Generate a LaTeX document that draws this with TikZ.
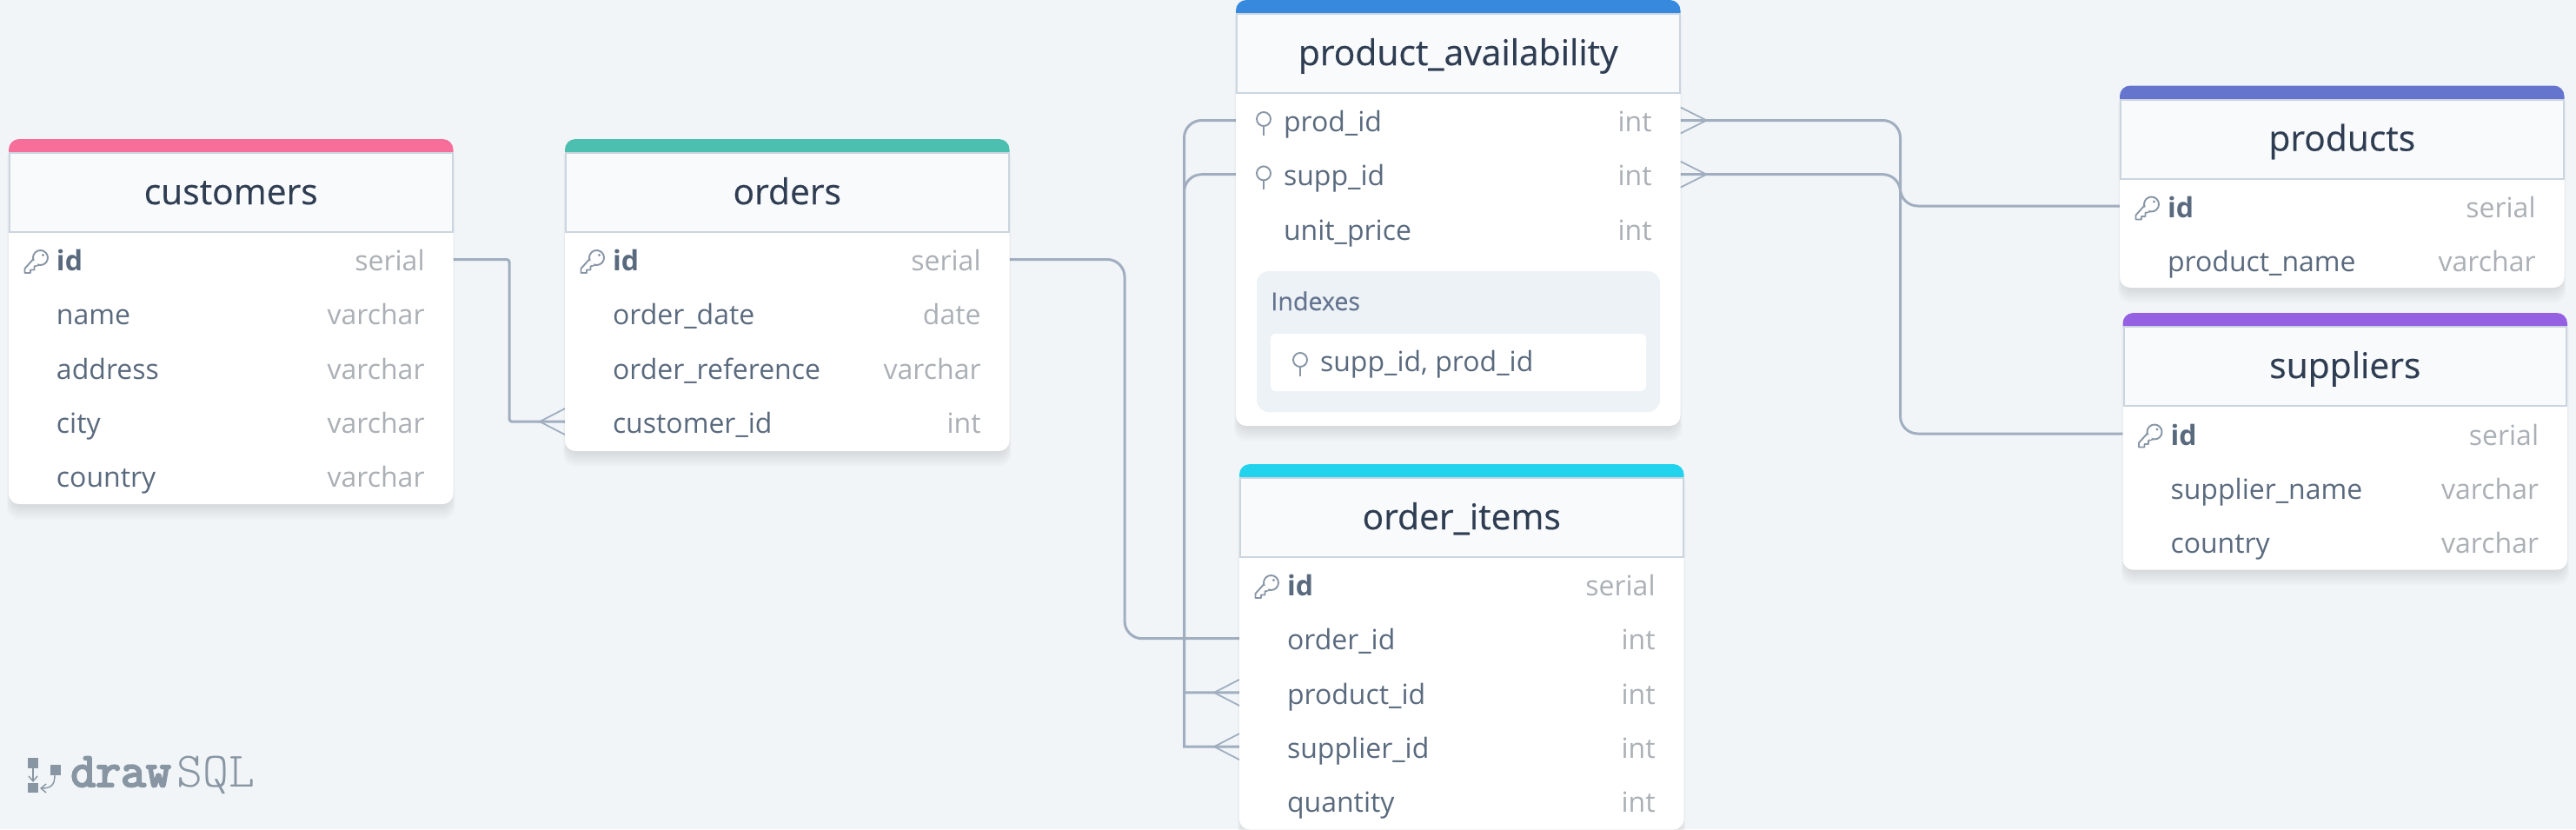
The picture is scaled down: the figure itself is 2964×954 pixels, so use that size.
\documentclass[tikz,border=0pt]{standalone}
\usepackage{fontspec}
\setmainfont{Open Sans}
\newfontfamily\titlefont[FakeBold=0.4]{Open Sans}
\newfontfamily\logobold[FakeBold=4]{Latin Modern Mono}
\newfontfamily\logolight{Latin Modern Mono Light}
\usetikzlibrary{calc,arrows.meta}
\pgfdeclarelayer{back}
\pgfsetlayers{back,main}
\definecolor{pagebg}{HTML}{F1F5F8}
\definecolor{headbg}{HTML}{F8FAFC}
\definecolor{headline}{HTML}{CBD5E0}
\definecolor{titlec}{HTML}{2F3D52}
\definecolor{fieldc}{HTML}{5A6A7E}
\definecolor{typec}{HTML}{ABB0B6}
\definecolor{linec}{HTML}{A0AEC0}
\definecolor{iconc}{HTML}{8795A5}
\definecolor{indexbg}{HTML}{EDF2F7}
\definecolor{indexc}{HTML}{64748F}
\definecolor{logoc}{HTML}{8896A3}
\definecolor{cpink}{HTML}{F76E9B}
\definecolor{cteal}{HTML}{4DBFB0}
\definecolor{cblue}{HTML}{3689DD}
\definecolor{ccyan}{HTML}{22D3EE}
\definecolor{cindigo}{HTML}{6574CD}
\definecolor{cviolet}{HTML}{9561E2}
\tikzset{
  tbody/.style={fill=white,rounded corners=6pt,minimum width=255.75pt,inner sep=0pt,outer sep=0pt},
  thead/.style={fill=headbg,draw=headline,line width=1pt,minimum width=254.75pt,minimum height=45.5pt,
    inner sep=0pt,text height=18.5pt,text depth=5pt,text=titlec,font=\titlefont\fontsize{20.4pt}{24pt}\selectfont},
  rowbox/.style={minimum width=255.75pt,minimum height=30pt,inner sep=0pt,outer sep=0pt,anchor=center,
    text height=17.2pt,text depth=4pt,text=fieldc,font=\fontsize{16pt}{19pt}\selectfont},
  typebox/.style={anchor=base east,inner sep=0pt,text=typec,font=\fontsize{16pt}{19pt}\selectfont},
  conn/.style={draw=linec,line width=1.5pt},
  crow/.style={draw=linec,line width=0.9pt},
  icon/.style={draw=iconc,line width=0.95pt,line join=round},
  logotext/.style={anchor=base west,inner sep=0pt,text=logoc}
}
\newcommand\dbtable[6]{%
  \pgfmathsetmacro\tR{#2+511.5}%
  \pgfmathsetmacro\tCx{#2+255.75}%
  \pgfmathsetmacro\tBar{#3+16}%
  \pgfmathsetmacro\tHy{#3+61.5}%
  \pgfmathsetmacro\tCy{(#3+#4)/2}%
  \pgfmathsetmacro\tH{(#4-#3)*0.5}%
  \foreach \s in {1,2,...,10}{%
    \fill[black,opacity=0.012,rounded corners=7pt] (#2-\s/2+3,#3+8) rectangle (\tR+\s/2-3,#4+\s*2-2);}%
  \node[tbody,minimum height=\tH pt] (#1) at (\tCx,\tCy) {};%
  \fill[#5] (#2,\tBar) [rounded corners=6pt] -- (#2,#3) -- (\tR,#3) [sharp corners] -- (\tR,\tBar) -- cycle;%
  \node[thead] (#1-head) at (\tCx,\tHy) {#6};%
}
\newcommand\frow[5]{%
  \pgfmathsetmacro\rCx{#2+255.75}%
  \node[rowbox] (#1) at (\rCx,#3) {\makebox[255.75pt][l]{\hspace{27.5pt}#4}};%
  \node[typebox] (#1-type) at ($(#1.east)+(-32.5,13.2)$) {#5};%
}
\newcommand\keyat[2]{%
  \begin{scope}[shift={(#1,#2)}]
    \draw[icon,fill=white] (-4.7,-3.9) -- (-14.5,7) -- (-14.5,12) -- (-8,12) -- (-8,8.5) -- (-3.5,8.5) -- (-3.5,4.5) -- (1.9,2.7) -- cycle;
    \draw[icon,fill=white] (3.5,-5.5) circle[radius=8.5];
    \fill[white] (-3.6,-2.5) -- (0.6,1.7) -- (-1,3.5) -- (-5.5,-1) -- cycle;
    \fill[iconc] (6.5,-8.5) circle[radius=1.6];
  \end{scope}}
\newcommand\pinat[2]{%
  \begin{scope}[shift={(#1,#2)}]
    \draw[icon] (0,-1) circle[radius=8];
    \draw[icon,line width=1.1pt] (0,7) -- (0,18);
  \end{scope}}
\newcommand\crowL[1]{\draw[crow] ($(#1)+(0,-15)$) -- ($(#1)+(-29,0)$) -- ($(#1)+(0,15)$);}
\newcommand\crowR[1]{\draw[crow] ($(#1)+(0,-15)$) -- ($(#1)+(30,0)$) -- ($(#1)+(0,15)$);}
\begin{document}
\begin{tikzpicture}[x=0.5pt,y=-0.5pt]
\useasboundingbox (0,0) rectangle (2964,954);

% customers
\dbtable{customers}{10}{160}{580}{cpink}{customers}
\frow{customers-id}{10}{298.5}{\textbf{id}}{serial}
\frow{customers-name}{10}{360.7}{name}{varchar}
\frow{customers-address}{10}{422.9}{address}{varchar}
\frow{customers-city}{10}{485.1}{city}{varchar}
\frow{customers-country}{10}{547.3}{country}{varchar}
\keyat{43}{302}

% orders
\dbtable{orders}{650}{160}{519}{cteal}{orders}
\frow{orders-id}{650}{298.5}{\textbf{id}}{serial}
\frow{orders-date}{650}{360.7}{order\_date}{date}
\frow{orders-ref}{650}{422.9}{order\_reference}{varchar}
\frow{orders-customer}{650}{485.1}{customer\_id}{int}
\keyat{683}{302}

% product_availability
\dbtable{pa}{1422}{0}{490}{cblue}{product\_availability}
\frow{pa-prod}{1422}{138.5}{prod\_id}{int}
\frow{pa-supp}{1422}{200.7}{supp\_id}{int}
\frow{pa-price}{1422}{262.9}{unit\_price}{int}
\pinat{1454}{138}
\pinat{1454}{200.4}
\fill[indexbg,rounded corners=7pt] (1446,312) rectangle (1910,474);
\node[anchor=base west,inner sep=0pt,text=indexc,font=\titlefont\fontsize{14.3pt}{17pt}\selectfont] (pa-indexes) at (1462,357) {Indexes};
\fill[white,rounded corners=3pt] (1462,384) rectangle (1894,450);
\node[anchor=base west,inner sep=0pt,text=fieldc,font=\fontsize{16pt}{19pt}\selectfont] (pa-index1) at (1518.6,427.7) {supp\_id, prod\_id};
\pinat{1496}{415}

% order_items
\dbtable{oi}{1426}{534}{954.6}{ccyan}{order\_items}
\frow{oi-id}{1426}{672.5}{\textbf{id}}{serial}
\frow{oi-order}{1426}{734.7}{order\_id}{int}
\frow{oi-product}{1426}{796.9}{product\_id}{int}
\frow{oi-supplier}{1426}{859.1}{supplier\_id}{int}
\frow{oi-quantity}{1426}{921.3}{quantity}{int}
\keyat{1459}{676}

% products
\dbtable{products}{2439}{98.5}{331}{cindigo}{products}
\frow{products-id}{2439}{237}{\textbf{id}}{serial}
\frow{products-name}{2439}{299.2}{product\_name}{varchar}
\keyat{2472}{240.5}

% suppliers
\dbtable{suppliers}{2442.5}{360}{655.6}{cviolet}{suppliers}
\frow{suppliers-id}{2442.5}{499}{\textbf{id}}{serial}
\frow{suppliers-name}{2442.5}{561.2}{supplier\_name}{varchar}
\frow{suppliers-country}{2442.5}{623.4}{country}{varchar}
\keyat{2475.5}{502.5}

% logo
\fill[logoc] (32,872) rectangle (44,883.5);
\fill[logoc] (32,901) rectangle (44,912);
\fill[logoc] (58,880) rectangle (70,892);
\draw[logoc,line width=0.7pt,-{Straight Barb[length=3pt,width=5pt]}] (38,883) -- (38,900);
\draw[logoc,line width=0.7pt,-{Straight Barb[length=3pt,width=5pt]}] (63,892) .. controls (63,904) and (58,907) .. (46,907);
\node[logotext,font=\logobold\fontsize{28pt}{30pt}\selectfont] (logo-draw) at (81,905) {draw};
\node[logotext,font=\logolight\fontsize{28.5pt}{30pt}\selectfont] (logo-sql) at (203,905) {SQL};

\begin{pgfonlayer}{back}
  \fill[pagebg] (0,0) rectangle (2964,954);
  \coordinate (cxa) at (586,0);
  \coordinate (cxb) at (1294,0);
  \coordinate (cxc) at (1362.5,0);
  \coordinate (cxd) at (2186.5,0);
  \draw[conn,rounded corners=1.5pt] (customers-id.east) -| (cxa |- orders-customer) -- (orders-customer.west);
  \crowL{orders-customer.west}
  \draw[conn,rounded corners=10pt] (orders-id.east) -| (cxb |- oi-order) -- (oi-order.west);
  \draw[conn] (pa-prod.west) [rounded corners=10pt] -- (cxc |- pa-prod) [sharp corners] -- (cxc |- oi-product) -- (oi-product.west);
  \draw[conn] (pa-supp.west) [rounded corners=10pt] -- (cxc |- pa-supp) [sharp corners] -- (cxc |- oi-supplier) -- (oi-supplier.west);
  \crowL{oi-product.west}
  \crowL{oi-supplier.west}
  \draw[conn,rounded corners=10pt] (pa-prod.east) -| (cxd |- products-id) -- (products-id.west);
  \draw[conn,rounded corners=10pt] (pa-supp.east) -| (cxd |- suppliers-id) -- (suppliers-id.west);
  \crowR{pa-prod.east}
  \crowR{pa-supp.east}
\end{pgfonlayer}
\end{tikzpicture}
\end{document}
